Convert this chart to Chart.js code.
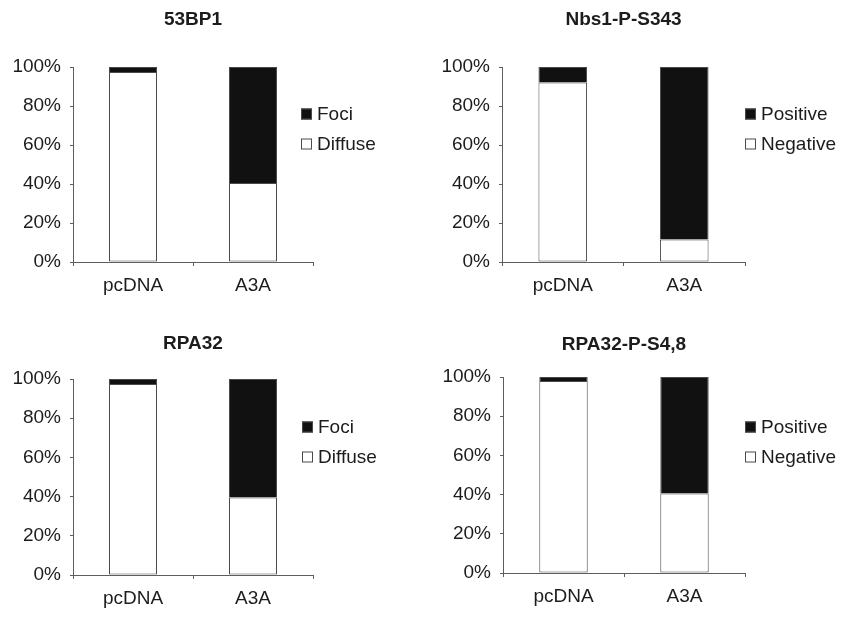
<!DOCTYPE html>
<html>
<head>
<meta charset="utf-8">
<script src="https://cdn.jsdelivr.net/npm/chart.js@4.4.1/dist/chart.umd.min.js"></script>
<style>
  html, body { margin: 0; padding: 0; background: #fff; }
  body { width: 845px; height: 617px; position: relative; overflow: hidden; }
  .panel { position: absolute; }
</style>
</head>
<body>
<div class="panel" style="left:0;top:0;width:422px;height:308px"><canvas id="c1"></canvas></div>
<div class="panel" style="left:422px;top:0;width:423px;height:308px"><canvas id="c2"></canvas></div>
<div class="panel" style="left:0;top:308px;width:422px;height:309px"><canvas id="c3"></canvas></div>
<div class="panel" style="left:422px;top:308px;width:423px;height:309px"><canvas id="c4"></canvas></div>
<script>
// Conditions on the x axis
const groups = ['pcDNA', 'A3A'];

// Panel titles and legend labels
const titles = ['53BP1', 'Nbs1-P-S343', 'RPA32', 'RPA32-P-S4,8'];
const upperLabels = ['Foci', 'Positive', 'Foci', 'Positive'];
const lowerLabels = ['Diffuse', 'Negative', 'Diffuse', 'Negative'];

// Percent of cells per condition (pcDNA, A3A)
const diffuse53BP1 = [97.5, 40.5];
const foci53BP1 = [2.5, 59.5];
const negativeNbs1 = [92, 11.5];
const positiveNbs1 = [8, 88.5];
const diffuseRPA32 = [97.5, 39.5];
const fociRPA32 = [2.5, 60.5];
const negativeRPA32P = [98, 40.5];
const positiveRPA32P = [2, 59.5];

// Y axis: minor ticks every 10%, labels every 20%
const yMax = 100;
const yStep = 10;
const yLabelEvery = 20;

const lowerSeries = [diffuse53BP1, negativeNbs1, diffuseRPA32, negativeRPA32P];
const upperSeries = [foci53BP1, positiveNbs1, fociRPA32, positiveRPA32P];

const FONT = '"Liberation Sans", Arial, Helvetica, sans-serif';
const INK = '#1c1c1c';
const AXIS = '#5e5e5e';
const EDGE = '#4a4a4a';

Chart.defaults.font.family = FONT;
Chart.defaults.font.size = 19;
Chart.defaults.color = INK;

// Bold title centred over the plot area
const panelTitle = {
  id: 'panelTitle',
  afterDraw(chart, args, opts) {
    const { ctx, chartArea } = chart;
    ctx.save();
    ctx.font = 'bold 19px ' + FONT;
    ctx.fillStyle = INK;
    ctx.textAlign = 'center';
    ctx.textBaseline = 'middle';
    ctx.fillText(opts.text, (chartArea.left + chartArea.right) / 2, opts.y);
    ctx.restore();
  }
};

// Key with square swatches, top series listed first
const panelKey = {
  id: 'panelKey',
  afterDraw(chart, args, opts) {
    const { ctx, chartArea } = chart;
    const items = chart.data.datasets.slice().reverse();
    ctx.save();
    ctx.font = '19px ' + FONT;
    ctx.textBaseline = 'middle';
    ctx.textAlign = 'left';
    items.forEach((ds, i) => {
      const cy = chartArea.top + opts.top + i * opts.gap;
      const x = chartArea.right + opts.dx;
      const s = opts.box;
      ctx.fillStyle = ds.backgroundColor;
      ctx.fillRect(x, cy - s / 2, s, s);
      ctx.strokeStyle = EDGE;
      ctx.lineWidth = 1;
      ctx.strokeRect(x + 0.5, cy - s / 2 + 0.5, s - 1, s - 1);
      ctx.fillStyle = INK;
      ctx.fillText(ds.label, x + s + 5, cy + 1);
    });
    ctx.restore();
  }
};

// Layout per panel: y-axis width, padding and placement of title / key
const layouts = [
  { yw: 73, pad: { left: 0, right: 109, top: 67, bottom: 10 }, titleY: 20, keyDx: -12, keyTop: 47 },
  { yw: 80, pad: { left: 0, right: 100, top: 67, bottom: 10 }, titleY: 20, keyDx: 0, keyTop: 47 },
  { yw: 73, pad: { left: 0, right: 109, top: 71, bottom: 6 }, titleY: 36, keyDx: -11, keyTop: 48 },
  { yw: 81, pad: { left: 0, right: 100, top: 69, bottom: 8 }, titleY: 37, keyDx: 0, keyTop: 50 }
];

function makePanel(i) {
  const L = layouts[i];
  return new Chart(document.getElementById('c' + (i + 1)), {
    type: 'bar',
    data: {
      labels: groups,
      datasets: [
        {
          label: lowerLabels[i],
          data: lowerSeries[i],
          backgroundColor: '#ffffff',
          borderColor: EDGE,
          borderWidth: 1,
          borderSkipped: false
        },
        {
          label: upperLabels[i],
          data: upperSeries[i],
          backgroundColor: '#111111',
          borderColor: EDGE,
          borderWidth: 1,
          borderSkipped: 'start'
        }
      ]
    },
    plugins: [panelTitle, panelKey],
    options: {
      responsive: true,
      maintainAspectRatio: false,
      animation: false,
      events: [],
      layout: { padding: L.pad },
      datasets: { bar: { categoryPercentage: 1, barPercentage: 0.4 } },
      plugins: {
        legend: { display: false },
        tooltip: { enabled: false },
        panelTitle: { text: titles[i], y: L.titleY },
        panelKey: { dx: L.keyDx, top: L.keyTop, gap: 30, box: 11 }
      },
      scales: {
        x: {
          stacked: true,
          grid: { display: true, drawOnChartArea: false, offset: true, tickLength: 4, color: AXIS },
          border: { display: true, color: AXIS, width: 1 },
          ticks: { padding: 8, color: INK, font: { size: 19 }, maxRotation: 0 },
          afterFit(s) { s.height = 36; }
        },
        y: {
          stacked: true,
          min: 0,
          max: yMax,
          grid: { display: true, drawOnChartArea: false, tickLength: 3, color: AXIS },
          border: { display: true, color: AXIS, width: 1 },
          ticks: {
            stepSize: yStep,
            padding: 9,
            color: INK,
            font: { size: 19 },
            callback: (v) => (v % yLabelEvery === 0 ? v + '%' : '')
          },
          afterFit(s) { s.width = L.yw; }
        }
      }
    }
  });
}

for (let i = 0; i < 4; i++) makePanel(i);
</script>
</body>
</html>
